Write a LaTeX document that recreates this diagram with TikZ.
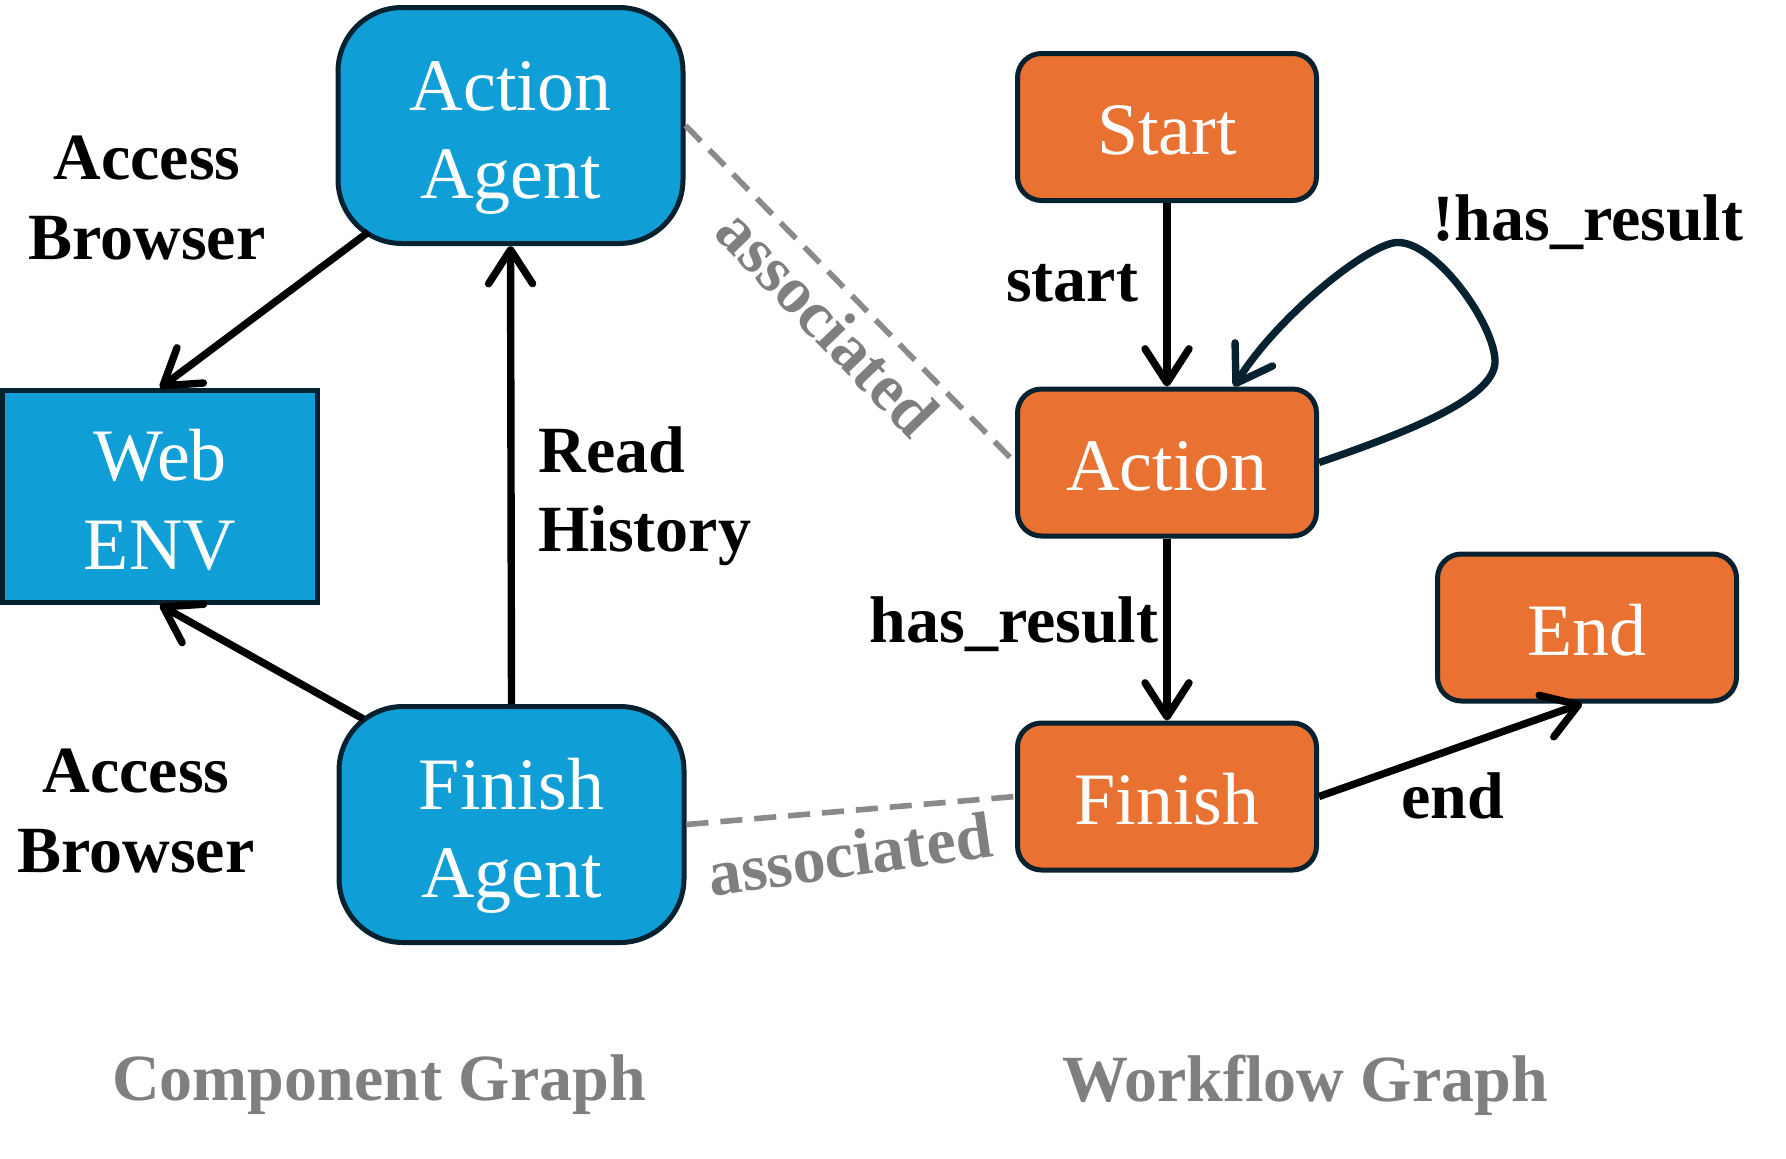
\documentclass[tikz,border=0pt]{standalone}
\usepackage{fontspec}
\setmainfont{Liberation Serif}
\usetikzlibrary{arrows.meta,calc}
\definecolor{cblue}{HTML}{0F9ED5}
\definecolor{corange}{HTML}{E97132}
\definecolor{cnavy}{HTML}{06212F}
\definecolor{cgray}{HTML}{8A8A8A}
\definecolor{tgray}{HTML}{7F7F7F}
\newcommand{\agentstrut}{\rule{0pt}{37pt}}
\newcommand{\envstrut}{\rule{0pt}{29pt}}
\begin{document}
\begin{tikzpicture}[x=0.5pt,y=-0.5pt,
  agent/.style={draw=cnavy,line width=2.5pt,fill=cblue,text=white,rounded corners=32pt,
    minimum width=172.5pt,minimum height=118pt,align=center,
    font=\fontsize{37}{44.4}\selectfont,inner sep=0pt},
  envbox/.style={draw=cnavy,line width=2.5pt,fill=cblue,text=white,
    minimum width=157.5pt,minimum height=106pt,align=center,
    font=\fontsize{37}{44.4}\selectfont,inner sep=0pt},
  state/.style={draw=cnavy,line width=2.5pt,fill=corange,text=white,rounded corners=12pt,
    minimum width=149.5pt,minimum height=73.5pt,
    font=\fontsize{37}{44.4}\selectfont,inner sep=0pt,
    execute at begin node={\rule{0pt}{28pt}}},
  lbl/.style={font=\fontsize{33}{39.6}\selectfont\bfseries,align=center,inner sep=0pt},
  assoc/.style={lbl,text=tgray},
  arr/.style={line width=3.7pt,-{Straight Barb[length=17pt,width=22pt,round]}},
  assocline/.style={draw=cgray,line width=2.8pt,dash pattern=on 11pt off 6pt},
]
\useasboundingbox (0,0) rectangle (1786,1158);

% component graph
\node[agent] (aa) at (510.5,125.5) {\agentstrut Action\\Agent};
\node[agent] (fa) at (511.5,824.5) {\agentstrut Finish\\Agent};
\node[envbox] (web) at (160,496.5) {\envstrut Web\\ENV};

% workflow graph
\node[state] (st) at (1167,127) {Start};
\node[state] (act) at (1167,462.5) {Action};
\node[state] (fin) at (1167,796.5) {Finish};
\node[state] (en) at (1587,627.5) {End};

% component edges
\draw[arr] ($(aa.south west)+(33,-14)$) -- (web.north);
\draw[arr] ($(fa.north west)+(27,15)$) -- (web.south);
\draw[arr] (fa.north) -- (aa.south);

% associations
\draw[assocline] (aa.east) -- (act.west);
\draw[assocline] (fa.east) -- (fin.west);

% workflow edges
\draw[arr] (st.south) -- (act.north);
\draw[arr] (act.south) -- (fin.north);
\draw[arr] (fin.east) -- ($(en.south)+(-5,0)$);
\draw[arr,draw=cnavy] (act.east) .. controls (1420,428) and (1497,395) .. (1495,360)
  .. controls (1493,320) and (1430,235) .. (1393,243)
  .. controls (1360,250) and (1275,320) .. ($(act.north)+(67,0)$);

% labels
\node[lbl] (l1) at (147,198) {Access\\Browser};
\node[lbl] (l2) at (136,811) {Access\\Browser};
\node[lbl,align=left,anchor=west] (l3) at (538,496) {Read\\History};
\node[lbl] (l4) at (1072,283) {start};
\node[lbl] (l5) at (1588,222) {!has\_result};
\node[lbl] (l6) at (1014,624) {has\_result};
\node[lbl] (l7) at (1453,796) {end};
\node[assoc,rotate=-46] (l8) at (828,322) {associated};
\node[assoc,rotate=8] (l9) at (850,854) {associated};

% titles
\node[assoc] (t1) at (379,1085) {Component Graph};
\node[assoc] (t2) at (1305,1085) {Workflow Graph};
\end{tikzpicture}
\end{document}
